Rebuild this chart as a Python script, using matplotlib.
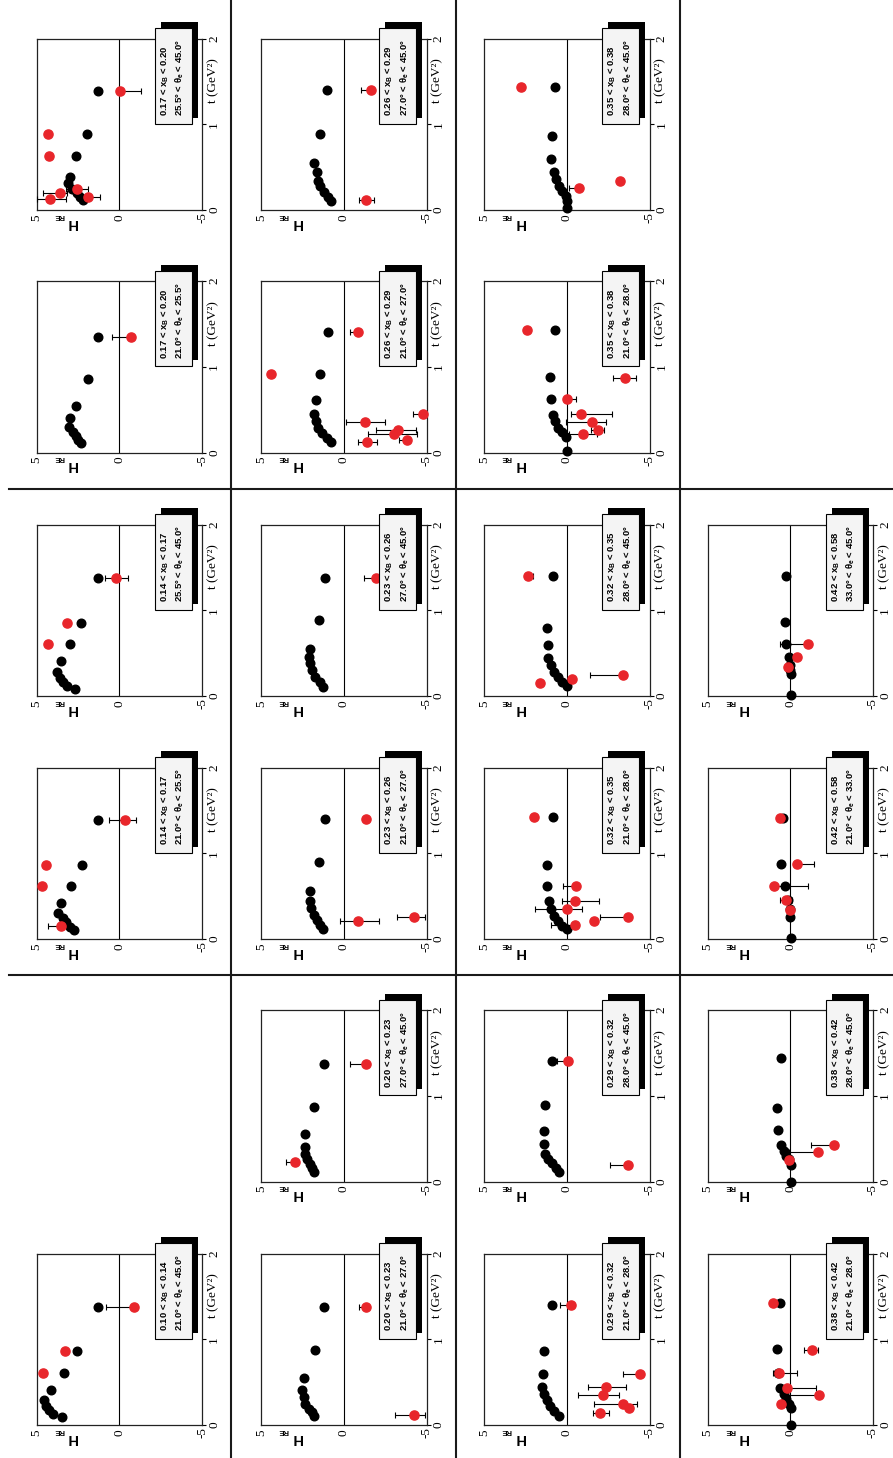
import matplotlib
matplotlib.use("Agg")
import matplotlib.pyplot as plt
from matplotlib.patches import Rectangle
from matplotlib.lines import Line2D

plt.rcParams['mathtext.fontset'] = 'custom'
plt.rcParams['mathtext.rm'] = 'Liberation Sans'
plt.rcParams['mathtext.bf'] = 'Liberation Sans:bold'
plt.rcParams['mathtext.it'] = 'Liberation Sans:italic'

# bins (x_B and electron angle) for each panel
xb_lo = ["0.10", "0.14", "0.14", "0.17", "0.17", "0.20", "0.20", "0.23", "0.23", "0.26", "0.26",
         "0.29", "0.29", "0.32", "0.32", "0.35", "0.35", "0.38", "0.38", "0.42", "0.42"]
xb_hi = ["0.14", "0.17", "0.17", "0.20", "0.20", "0.23", "0.23", "0.26", "0.26", "0.29", "0.29",
         "0.32", "0.32", "0.35", "0.35", "0.38", "0.38", "0.42", "0.42", "0.58", "0.58"]
th_lo = ["21.0", "21.0", "25.5", "21.0", "25.5", "21.0", "27.0", "21.0", "27.0", "21.0", "27.0",
         "21.0", "28.0", "21.0", "28.0", "21.0", "28.0", "21.0", "28.0", "21.0", "33.0"]
th_hi = ["45.0", "25.5", "45.0", "25.5", "45.0", "27.0", "45.0", "27.0", "45.0", "27.0", "45.0",
         "28.0", "45.0", "28.0", "45.0", "28.0", "45.0", "28.0", "45.0", "33.0", "45.0"]

# grid cell (row, column) of each panel
cells = [(5, 0), (3, 0), (2, 0), (1, 0), (0, 0), (5, 1), (4, 1), (3, 1), (2, 1), (1, 1), (0, 1),
         (5, 2), (4, 2), (3, 2), (2, 2), (1, 2), (0, 2), (5, 3), (4, 3), (3, 3), (2, 3)]

# model curve points (black)
fit_t = [
    [1.373, 0.863, 0.608, 0.404, 0.286, 0.227, 0.176, 0.129, 0.09],
    [1.387, 0.867, 0.62, 0.418, 0.30, 0.25, 0.20, 0.145, 0.105],
    [1.375, 0.855, 0.605, 0.406, 0.28, 0.21, 0.164, 0.117, 0.086],
    [1.35, 0.86, 0.54, 0.40, 0.30, 0.24, 0.19, 0.14, 0.105],
    [1.39, 0.89, 0.625, 0.39, 0.31, 0.25, 0.195, 0.148, 0.117],
    [1.373, 0.875, 0.553, 0.404, 0.325, 0.247, 0.188, 0.149, 0.11],
    [1.369, 0.87, 0.557, 0.40, 0.32, 0.263, 0.204, 0.157, 0.106],
    [1.395, 0.898, 0.555, 0.4375, 0.36, 0.28, 0.22, 0.164, 0.117],
    [1.375, 0.887, 0.543, 0.45, 0.38, 0.30, 0.22, 0.164, 0.105],
    [1.41, 0.91, 0.61, 0.45, 0.37, 0.29, 0.23, 0.164, 0.125],
    [1.40, 0.89, 0.55, 0.44, 0.34, 0.285, 0.21, 0.15, 0.11],
    [1.404, 0.863, 0.592, 0.443, 0.365, 0.286, 0.227, 0.169, 0.11],
    [1.408, 0.89, 0.588, 0.44, 0.32, 0.263, 0.212, 0.157, 0.106],
    [1.418, 0.86, 0.613, 0.44, 0.35, 0.273, 0.207, 0.156, 0.117],
    [1.40, 0.79, 0.59, 0.4375, 0.36, 0.28, 0.22, 0.164, 0.117],
    [1.43, 0.88, 0.625, 0.44, 0.37, 0.29, 0.234, 0.176, 0.02],
    [1.43, 0.86, 0.60, 0.44, 0.36, 0.285, 0.22, 0.168, 0.11, 0.023],
    [1.424, 0.882, 0.608, 0.435, 0.365, 0.306, 0.247, 0.2, 0.0],
    [1.439, 0.859, 0.604, 0.431, 0.361, 0.302, 0.263, 0.196, 0.0],
    [1.406, 0.88, 0.613, 0.45, 0.35, 0.254, 0.008],
    [1.40, 0.867, 0.605, 0.45, 0.36, 0.30, 0.26, 0.008],
]
fit_h = [
    [1.30, 2.58, 3.36, 4.13, 4.54, 4.43, 4.23, 3.99, 3.46],
    [1.30, 2.25, 2.92, 3.51, 3.71, 3.40, 3.20, 2.96, 2.76],
    [1.30, 2.35, 2.98, 3.53, 3.75, 3.59, 3.38, 3.18, 2.66],
    [1.28, 1.88, 2.63, 2.99, 3.03, 2.79, 2.63, 2.49, 2.35],
    [1.28, 1.98, 2.63, 2.99, 3.09, 2.89, 2.59, 2.38, 2.18],
    [1.22, 1.73, 2.39, 2.53, 2.43, 2.33, 2.13, 1.93, 1.79],
    [1.22, 1.79, 2.33, 2.37, 2.33, 2.23, 2.07, 1.93, 1.79],
    [1.16, 1.53, 2.03, 2.07, 1.99, 1.83, 1.63, 1.42, 1.26],
    [1.16, 1.53, 2.03, 2.11, 2.05, 1.93, 1.73, 1.46, 1.26],
    [0.95, 1.46, 1.72, 1.82, 1.72, 1.56, 1.32, 1.01, 0.81],
    [1.01, 1.42, 1.82, 1.62, 1.56, 1.42, 1.21, 0.95, 0.81],
    [0.92, 1.38, 1.46, 1.48, 1.38, 1.22, 1.02, 0.76, 0.47],
    [0.92, 1.32, 1.38, 1.38, 1.32, 1.12, 0.92, 0.66, 0.47],
    [0.82, 1.22, 1.22, 1.08, 0.96, 0.76, 0.52, 0.27, 0.01],
    [0.82, 1.18, 1.12, 1.12, 0.96, 0.76, 0.52, 0.27, 0.01],
    [0.73, 1.03, 0.99, 0.85, 0.73, 0.53, 0.28, 0.08, -0.02],
    [0.73, 0.93, 0.99, 0.79, 0.69, 0.49, 0.28, 0.08, 0.02, 0.02],
    [0.62, 0.82, 0.72, 0.62, 0.41, 0.27, 0.11, -0.03, -0.03],
    [0.56, 0.78, 0.72, 0.56, 0.41, 0.27, 0.11, -0.03, -0.03],
    [0.47, 0.56, 0.31, 0.15, 0.05, 0.01, -0.03],
    [0.25, 0.31, 0.27, 0.11, 0.01, 0.01, -0.03, -0.03],
]

# extracted H_RE (red) with asymmetric errors
dat_t = [
    [1.373, 0.863, 0.608],
    [1.387, 0.867, 0.62, 0.152],
    [1.375, 0.855, 0.605],
    [1.35],
    [1.39, 0.89, 0.625, 0.24, 0.195, 0.125, 0.156],
    [1.373, 0.118],
    [1.369, 0.231],
    [1.395, 0.26, 0.21],
    [1.375],
    [1.41, 0.91, 0.45, 0.36, 0.26, 0.215, 0.148, 0.125],
    [1.40, 0.117],
    [1.404, 0.592, 0.443, 0.345, 0.247, 0.20, 0.137],
    [1.408, 0.196],
    [1.418, 0.613, 0.44, 0.35, 0.254, 0.207, 0.168],
    [1.40, 0.242, 0.156, 0.195],
    [1.43, 0.87, 0.625, 0.45, 0.36, 0.26, 0.215],
    [1.43, 0.258, 0.344],
    [1.424, 0.875, 0.608, 0.435, 0.345, 0.247],
    [0.431, 0.341, 0.255],
    [1.406, 0.88, 0.613, 0.46, 0.344],
    [0.605, 0.45, 0.34],
]
dat_h = [
    [-0.88, 3.28, 4.60],
    [-0.37, 4.45, 4.70, 3.55],
    [0.19, 3.16, 4.33],
    [-0.73],
    [-0.03, 4.30, 4.24, 2.55, 3.59, 4.20, 1.88],
    [-1.34, -4.23],
    [-1.34, 2.94],
    [-1.34, -4.23, -0.86],
    [-1.91],
    [-0.87, 4.39, -4.80, -1.28, -3.24, -3.04, -3.81, -1.42],
    [-1.62, -1.36],
    [-0.25, -4.43, -2.35, -2.17, -3.38, -3.77, -2.01],
    [-0.09, -3.69],
    [1.97, -0.56, -0.49, 0.01, -3.69, -1.61, -0.49],
    [2.33, -3.38, 1.63, -0.29],
    [2.41, -3.52, -0.02, -0.83, -1.54, -1.90, -0.97],
    [2.81, -0.73, -3.22],
    [1.02, -1.30, 0.66, 0.21, -1.71, 0.56],
    [-2.66, -1.65, 0.11],
    [0.62, -0.43, 0.96, 0.27, 0.01],
    [-1.06, -0.39, 0.17],
]
dat_elo = [
    [0, 0, 0],
    [0.65, 0, 0, 0],
    [0.7, 0, 0],
    [0],
    [1.3, 0, 0, 0.66, 0.4, 1.0, 0.7],
    [0, 0.7],
    [0, 0],
    [0, 0.7, 1.25],
    [0],
    [0, 0, 0, 1.2, 1.1, 1.4, 0.2, 0.6],
    [0, 0.45],
    [0, 0, 1.2, 0.95, 0.85, 0, 0.55],
    [0, 0],
    [0, 0, 1.45, 0.9, 0, 0, 0],
    [0.3, 0, 0, 0],
    [0, 0.65, 0.5, 1.9, 0.8, 0.35, 0.85],
    [0, 0, 0],
    [0, 0.35, 1.05, 1.76, 0, 0],
    [0, 0, 0],
    [0, 1.0, 2.0, 0.35, 0],
    [0, 0, 0],
]
dat_ehi = [
    [1.7, 0, 0],
    [1.0, 0, 0, 0.77],
    [0.65, 0, 0],
    [1.2],
    [0, 0, 0, 0.65, 1.05, 0.76, 0.3],
    [0.45, 1.15],
    [1.0, 0.55],
    [0, 1.05, 1.1],
    [0.7],
    [0.5, 0, 0.65, 1.17, 1.3, 1.6, 0.5, 0.55],
    [0.6, 0.45],
    [0.67, 1.05, 1.05, 1.5, 1.75, 0, 0.45],
    [0.7, 1.1],
    [0, 0.77, 0.8, 1.9, 1.7, 0, 1.45],
    [0, 2.0, 0, 0],
    [0, 0.75, 0, 0.6, 1.6, 0.45, 0.85],
    [0, 0.6, 0],
    [0, 0.45, 0.4, 0, 2.2, 0],
    [1.4, 1.75, 0],
    [0, 0, 0, 0.35, 0],
    [1.7, 0, 0],
]

W, H = 893, 1458
fig = plt.figure(figsize=(W / 100, H / 100), dpi=100)
fig.patch.set_facecolor('white')

col_left = [36.7, 261.3, 484.3, 707.7]
row_top = [38.5, 281, 524.5, 767.5, 1010, 1253.5]
pw, ph = 165.3, 171.5

serif = 'Liberation Serif'
sans = 'Liberation Sans'

for i in range(len(cells)):
    r, c = cells[i]
    ax = fig.add_axes([col_left[c] / W, 1 - (row_top[r] + ph) / H, pw / W, ph / H])
    ax.set_xlim(5, -5)
    ax.set_ylim(0, 2)
    for s in ax.spines.values():
        s.set_linewidth(0.9)
        s.set_color('#222222')

    ax.axvline(0, color='black', lw=0.8, zorder=1)

    ax.plot(fit_h[i], fit_t[i], 'o', color='black', ms=6.2, clip_on=False, zorder=3)
    ax.errorbar(dat_h[i], dat_t[i], xerr=[dat_elo[i], dat_ehi[i]], fmt='o',
                color='#e8262b', ms=6.6, ecolor='black', elinewidth=0.8,
                capsize=2.5, capthick=0.8, clip_on=False, zorder=4)

    # axes: H along the bottom, t on the right side
    ax.set_xticks([5, 0, -5], ['5', '0', '-5'], rotation=90, va='center',
                  family=serif, fontsize=9.5)
    ax.yaxis.tick_right()
    ax.set_yticks([0, 1, 2], ['0', '1', '2'], rotation=90, va='center',
                  family=serif, fontsize=9.5)
    ax.tick_params(axis='x', length=0, pad=5.5)
    ax.tick_params(axis='y', direction='out', length=3, width=0.8, pad=1.5,
                   left=False, right=True, labelleft=False, labelright=True)

    ax.text(1.067, 0.884, 't (GeV²)', transform=ax.transAxes, rotation=90,
            ha='center', va='top', family=serif, fontsize=9.5)
    ax.text(0.2135, -0.0756, 'H', transform=ax.transAxes, rotation=180,
            ha='center', va='center', family=sans, fontweight='bold', fontsize=10.5)
    ax.text(0.135, -0.032, 'RE', transform=ax.transAxes, rotation=180,
            ha='center', va='center', family=sans, fontweight='bold', fontsize=5.5)

    # bin label box with shadow
    bx, by, bw, bh = 0.713, 0.504, 0.225, 0.556
    ax.add_patch(Rectangle((bx + 0.036, by + 0.035), bw, bh, transform=ax.transAxes,
                           facecolor='black', edgecolor='none', clip_on=False, zorder=8))
    ax.add_patch(Rectangle((bx, by), bw, bh, transform=ax.transAxes,
                           facecolor='#f4f4f4', edgecolor='black', lw=0.8,
                           clip_on=False, zorder=9))
    line1 = f'{xb_lo[i]} < x$_{{\\mathbf{{B}}}}$ < {xb_hi[i]}'
    line2 = f'{th_lo[i]}° < θ$_{{\\mathbf{{e}}}}$ < {th_hi[i]}°'
    ax.text(0.776, 0.547, line1, transform=ax.transAxes, rotation=90, ha='center',
            va='bottom', family=sans, fontweight='bold', fontsize=6.8, zorder=10)
    ax.text(0.866, 0.547, line2, transform=ax.transAxes, rotation=90, ha='center',
            va='bottom', family=sans, fontweight='bold', fontsize=6.8, zorder=10)

# separators between the x_B groups
for x in [231.5, 456, 680]:
    fig.add_artist(Line2D([x / W, x / W], [0, 1], transform=fig.transFigure,
                          color='#1a1a1a', lw=1.5))
for y in [489, 975]:
    fig.add_artist(Line2D([9 / W, 1], [1 - y / H, 1 - y / H], transform=fig.transFigure,
                          color='#1a1a1a', lw=1.5))

fig.savefig('out.png', dpi=100, facecolor='white')
